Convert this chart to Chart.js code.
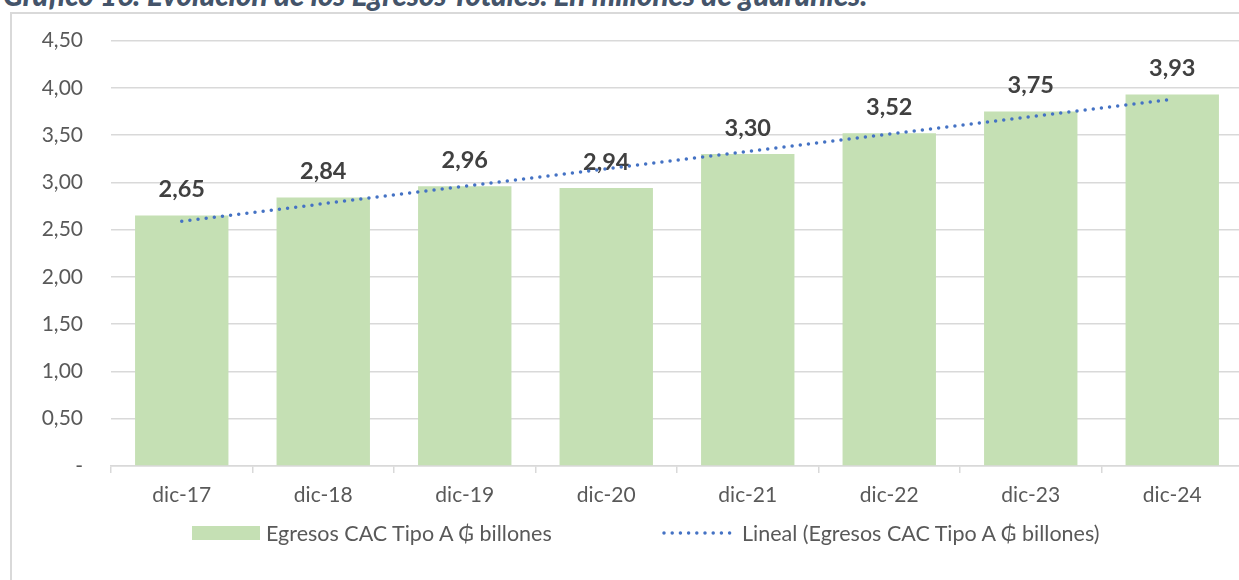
<!DOCTYPE html>
<html>
<head>
<meta charset="utf-8">
<script src="https://cdn.jsdelivr.net/npm/chart.js@4"></script>
<style>
  html, body { margin: 0; padding: 0; background: #fff; overflow: hidden; width: 1239px; height: 580px; }
  #title { position: absolute; left: 3px; top: -20px; font: italic 900 29.5px/29.5px Lato, sans-serif; color: #44546A; white-space: nowrap; }
  #frame { position: absolute; left: 10px; top: 12px; width: 1260px; height: 620px; border: 2px solid #d9d9d9; box-sizing: border-box; }
  #myChart { position: absolute; left: 0; top: 0; }
  .leg { position: absolute; top: 520px; display: flex; align-items: center; font: 21.5px Lato, sans-serif; color: #595959; white-space: nowrap; height: 26px; }
  .box { width: 68px; height: 14px; background: #C5E0B4; margin-right: 6px; }
</style>
</head>
<body>
<div id="title">Gráfico 16: Evolución de los Egresos Totales. En millones de guaraníes.</div>
<div id="frame"></div>
<canvas id="myChart" width="1270" height="580"></canvas>
<div class="leg" style="left:192px"><span class="box"></span><span>Egresos CAC Tipo A ₲ billones</span></div>
<div class="leg" style="left:662px"><svg width="78" height="6" style="margin-right:2px"><line x1="2" y1="3" x2="74" y2="3" stroke="#4472C4" stroke-width="3.5" stroke-linecap="round" stroke-dasharray="0 8.2"/></svg><span>Lineal (Egresos CAC Tipo A ₲ billones)</span></div>
<script>
var labels = ['dic-17', 'dic-18', 'dic-19', 'dic-20', 'dic-21', 'dic-22', 'dic-23', 'dic-24'];
var egresos = [2.65, 2.84, 2.96, 2.94, 3.30, 3.52, 3.75, 3.93];
// trend line as drawn in the picture: start and end only
var tendencia = [2.59, null, null, null, null, null, null, 3.88];

function fmt(v) {
  return v.toFixed(2).replace('.', ',');
}

// value labels above the bars
var barLabels = {
  id: 'barLabels',
  afterDatasetDraw: function (chart, args) {
    if (args.index !== 0) return;
    var ctx = chart.ctx;
    ctx.save();
    ctx.font = 'bold 23.5px Lato, sans-serif';
    ctx.fillStyle = '#404040';
    ctx.textAlign = 'center';
    ctx.textBaseline = 'alphabetic';
    args.meta.data.forEach(function (bar, i) {
      ctx.fillText(fmt(egresos[i]), bar.x, bar.y - 18.5);
    });
    ctx.restore();
  }
};

var ctx = document.getElementById('myChart').getContext('2d');
var chart = new Chart(ctx, {
  type: 'bar',
  data: {
    labels: labels,
    datasets: [
      {
        label: 'Egresos CAC Tipo A ₲ billones',
        data: egresos,
        backgroundColor: '#C5E0B4',
        categoryPercentage: 1,
        barPercentage: 0.66,
        order: 1
      },
      {
        type: 'line',
        label: 'Lineal (Egresos CAC Tipo A ₲ billones)',
        data: tendencia,
        spanGaps: true,
        borderColor: '#4472C4',
        borderWidth: 3.5,
        borderDash: [0, 8.2],
        borderCapStyle: 'round',
        pointRadius: 0,
        fill: false,
        order: 0
      }
    ]
  },
  options: {
    responsive: false,
    animation: false,
    layout: { padding: { left: 0, right: 27, top: 40, bottom: 0 } },
    plugins: {
      legend: { display: false },
      tooltip: { enabled: false }
    },
    scales: {
      x: {
        offset: true,
        grid: { offset: true, drawOnChartArea: false, drawTicks: true, tickLength: 7, color: '#d9d9d9', lineWidth: 1.5 },
        border: { color: '#d9d9d9', width: 1.5 },
        ticks: { color: '#595959', font: { family: 'Lato', size: 21 }, padding: 10 },
        afterFit: function (scale) { scale.height = 114; }
      },
      y: {
        min: 0,
        max: 4.5,
        ticks: {
          stepSize: 0.5,
          color: '#595959',
          font: { family: 'Lato', size: 21 },
          padding: 28,
          callback: function (v) { return v === 0 ? '-' : fmt(v); }
        },
        grid: { color: '#d9d9d9', lineWidth: 1.5, drawTicks: false },
        border: { display: false },
        afterFit: function (scale) { scale.width = 111; }
      }
    }
  },
  plugins: [barLabels]
});
</script>
</body>
</html>
